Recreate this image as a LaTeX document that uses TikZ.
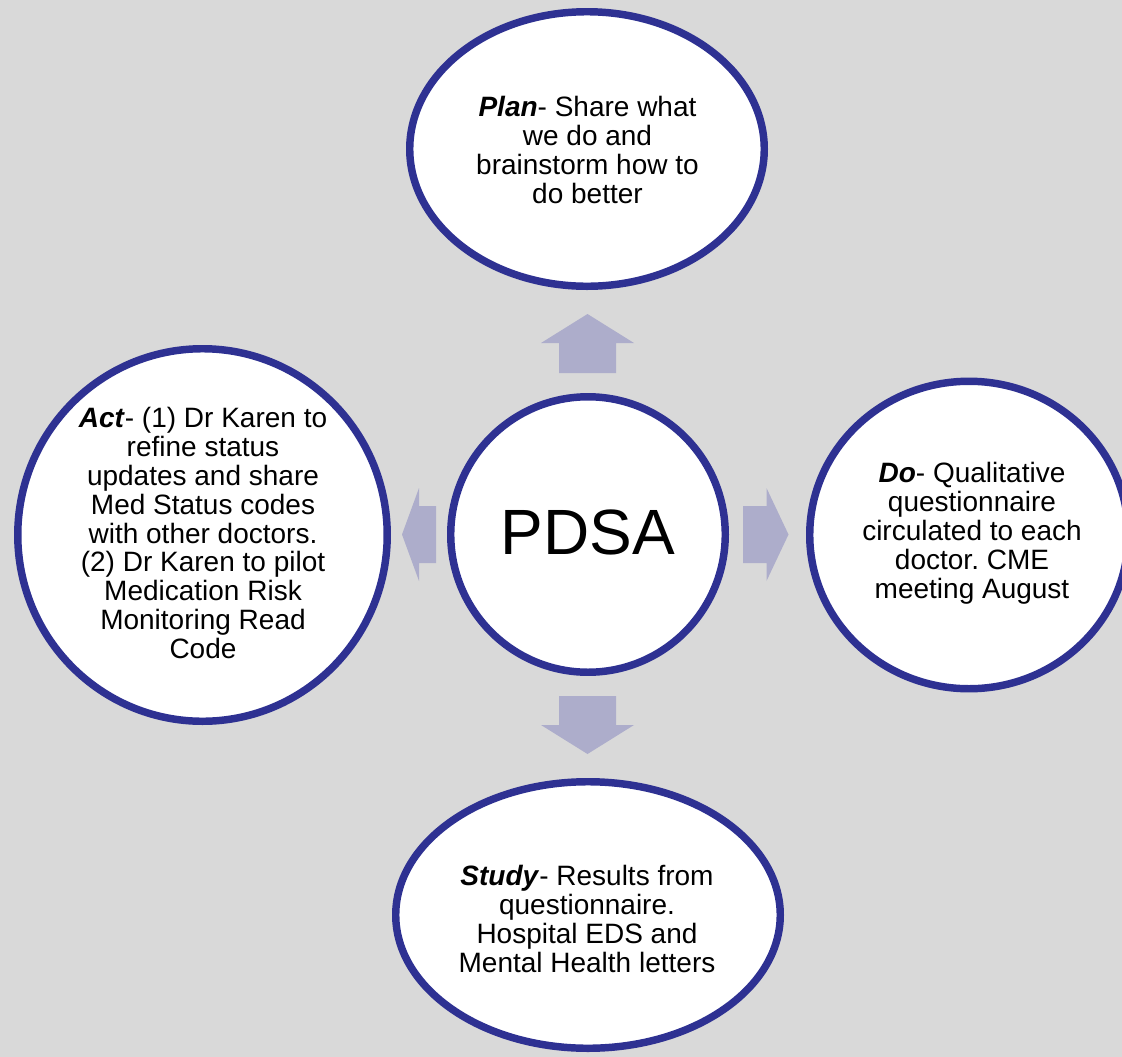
\documentclass[tikz,border=0pt]{standalone}
\usepackage{fontspec}
\setmainfont{Liberation Sans}
\usetikzlibrary{shapes.geometric}
\definecolor{bg}{HTML}{D9D9D9}
\definecolor{ring}{HTML}{2E3192}
\definecolor{arrowc}{HTML}{ADADCB}
\frenchspacing
\begin{document}
\begin{tikzpicture}[x=0.75pt,y=-0.75pt,
  bubble/.style={ellipse, draw=ring, fill=white, line width=5.6pt, inner sep=0pt},
  body/.style={font=\fontsize{21}{21.6}\selectfont, align=center, inner sep=0pt},
  blockarrow/.style={fill=arrowc, draw=none}]
\useasboundingbox (0,0) rectangle (1122,1057);
\clip (0,0) rectangle (1122,1057);
\fill[bg] (0,0) rectangle (1122,1057);

% circles
\node[bubble, minimum width=265.9pt, minimum height=205.9pt] (plan) at (587,149) {};
\node[bubble, minimum width=205.9pt, minimum height=206.6pt] (pdsa) at (588,534.5) {};
\node[bubble, minimum width=238.9pt, minimum height=230.6pt] (do) at (969,535) {};
\node[bubble, minimum width=277.1pt, minimum height=279.4pt] (act) at (202.5,535) {};
\node[bubble, minimum width=288.4pt, minimum height=199.9pt] (study) at (588,915) {};

% texts
\node[body] (planT) at (587.5,150) {\textbf{\textit{Plan}}- Share what\\we do and\\brainstorm how to\\do better};
\node[body] (actT) at (203,533) {\textbf{\textit{Act}}- (1) Dr Karen to\\refine status\\updates and share\\Med Status codes\\with other doctors.\\(2) Dr Karen to pilot\\Medication Risk\\Monitoring Read\\Code};
\node[body] (doT) at (972,533.3) {\textbf{\textit{Do}}- Qualitative\\questionnaire\\circulated to each\\doctor. CME\\meeting August};
\node[body] (studyT) at (587,919) {\textbf{\textit{Study}}- Results from\\questionnaire.\\Hospital EDS and\\Mental Health letters};
\node[inner sep=0pt, font=\fontsize{48}{58}\selectfont] (pdsaT) at (588,532) {PDSA};

% block arrows
\fill[blockarrow] (559,373) -- (559,343) -- (541,343) -- (587.5,314) -- (634,343) -- (616,343) -- (616,373) -- cycle;
\fill[blockarrow] (559,696) -- (616,696) -- (616,725) -- (634,725) -- (587.5,754) -- (541,725) -- (559,725) -- cycle;
\fill[blockarrow] (743,506) -- (766.5,506) -- (766.5,488) -- (788.5,534.5) -- (766.5,581) -- (766.5,563) -- (743,563) -- cycle;
\fill[blockarrow] (436,506) -- (419,506) -- (419,488) -- (402,534.5) -- (419,581) -- (419,563) -- (436,563) -- cycle;
\end{tikzpicture}
\end{document}
